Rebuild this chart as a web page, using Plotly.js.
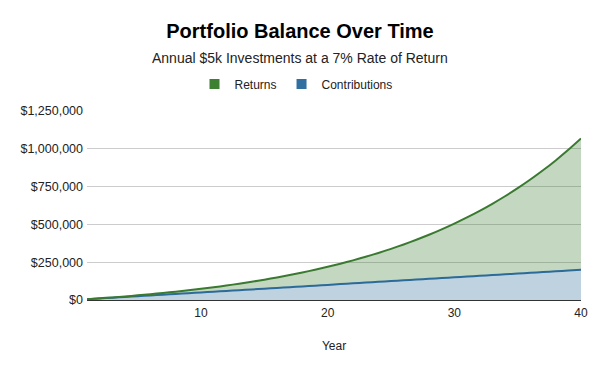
<!DOCTYPE html>
<html>
<head>
<meta charset="utf-8">
<script src="https://cdn.plot.ly/plotly-3.0.1.min.js"></script>
<style>html,body{margin:0;padding:0;background:#fff;}#chart{width:600px;height:371px;}</style>
</head>
<body>
<div id="chart"></div>
<script>
const years = [1,2,3,4,5,6,7,8,9,10,11,12,13,14,15,16,17,18,19,20,21,22,23,24,25,26,27,28,29,30,31,32,33,34,35,36,37,38,39,40];
const contributions = [5000,10000,15000,20000,25000,30000,35000,40000,45000,50000,55000,60000,65000,70000,75000,80000,85000,90000,95000,100000,105000,110000,115000,120000,125000,130000,135000,140000,145000,150000,155000,160000,165000,170000,175000,180000,185000,190000,195000,200000];
const returns = [350,1075,2197,3740,5730,8253,11281,14873,19064,23918,29442,35703,42752,50645,59440,69201,79995,91895,104977,119326,135029,152181,170883,191245,213383,237419,263489,291732,322304,355365,391091,429668,471295,516185,564567,616687,672805,733201,798176,868048];
const yTickVals = [0,250000,500000,750000,1000000,1250000];
const yTickText = ["$0","$250,000","$500,000","$750,000","$1,000,000","$1,250,000"];
const xTickVals = [10,20,30,40];

const greenLine = "#3a7a30", greenFill = "rgba(58,122,48,0.3)", greenKey = "#3d8032";
const blueLine = "#2b6a99", blueFill = "rgba(43,106,153,0.3)", blueKey = "#2f70a0";

const traces = [
  {x: years, y: contributions, type: "scatter", mode: "lines", stackgroup: "one",
   line: {color: blueLine, width: 2, shape: "spline", smoothing: 0.6}, fillcolor: blueFill, name: "Contributions", showlegend: false},
  {x: years, y: returns, type: "scatter", mode: "lines", stackgroup: "one",
   line: {color: greenLine, width: 2, shape: "spline", smoothing: 0.6}, fillcolor: greenFill, name: "Returns", showlegend: false},
  {x: [null], y: [null], type: "scatter", mode: "markers", name: "Returns",
   marker: {symbol: "square", size: 10, color: greenKey}},
  {x: [null], y: [null], type: "scatter", mode: "markers", name: "Contributions",
   marker: {symbol: "square", size: 10, color: blueKey}}
];

const layout = {
  width: 600, height: 371,
  margin: {l: 87, r: 19, t: 111, b: 71, autoexpand: false},
  paper_bgcolor: "#fff", plot_bgcolor: "#fff",
  font: {family: "Liberation Sans, Arial, sans-serif", size: 12, color: "#222"},
  title: {text: "<b>Portfolio Balance Over Time</b>", x: 0.5, xref: "container", xanchor: "center",
          y: 1 - 31/371, yref: "container", yanchor: "middle", automargin: false,
          font: {size: 20, color: "#000", family: "Liberation Sans, Arial, sans-serif"}},
  annotations: [{text: "Annual $5k Investments at a 7% Rate of Return", xref: "paper", yref: "paper",
                 x: (300-87)/494, y: (300-58)/189, xanchor: "center", yanchor: "middle", showarrow: false,
                 font: {size: 14, color: "#222"}}],
  showlegend: true,
  legend: {orientation: "h", x: (296-87)/494, xref: "paper", xanchor: "center", y: (300-84)/189, yref: "paper", yanchor: "middle",
           traceorder: "normal", font: {size: 12, color: "#222"}, itemwidth: 30},
  xaxis: {range: [1, 40], tickvals: xTickVals, showgrid: false, zeroline: false, automargin: false,
          showline: true, linecolor: "#333", linewidth: 1, ticks: "", fixedrange: true,
          ticklabelstandoff: 2,
          tickfont: {size: 12, color: "#222"},
          title: {text: "Year", font: {size: 12, color: "#222"}, standoff: 22}},
  yaxis: {range: [0, 1250000], tickvals: yTickVals, ticktext: yTickText, showgrid: true, automargin: false,
          gridcolor: "#cccccc", zeroline: false, showline: false, ticks: "", fixedrange: true,
          ticklabelstandoff: 3,
          tickfont: {size: 12.5, color: "#222"}}
};

Plotly.newPlot("chart", traces, layout, {displayModeBar: false, staticPlot: true});
</script>
</body>
</html>
